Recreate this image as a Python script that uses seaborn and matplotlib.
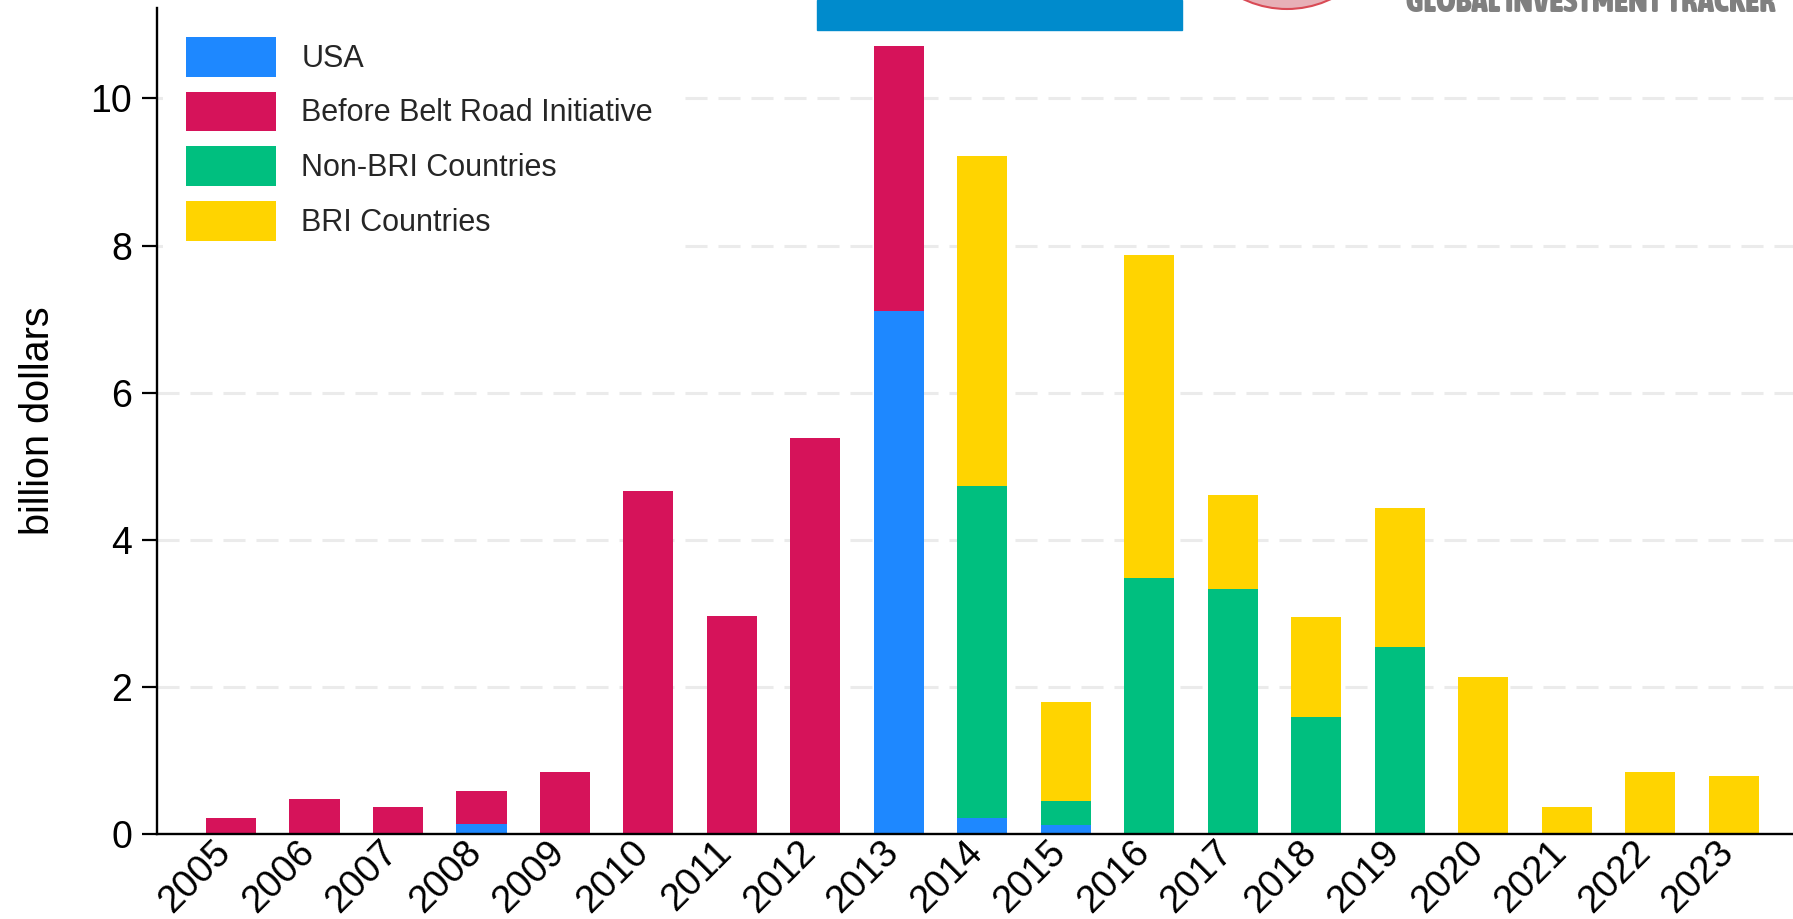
import seaborn as sns
import matplotlib.pyplot as plt
from matplotlib import font_manager
from matplotlib.font_manager import FontProperties
from matplotlib.transforms import ScaledTranslation
from matplotlib.patches import Patch, Rectangle, Circle

# data (billion dollars)
years = [str(y) for y in range(2005, 2024)]
usa = [0, 0, 0, 0.14, 0, 0, 0, 0, 7.11, 0.22, 0.12, 0, 0, 0, 0, 0, 0, 0, 0]
before_bri = [0.22, 0.48, 0.37, 0.45, 0.85, 4.67, 2.97, 5.39, 3.60, 0, 0, 0, 0, 0, 0, 0, 0, 0, 0]
non_bri = [0, 0, 0, 0, 0, 0, 0, 0, 0, 4.52, 0.33, 3.48, 3.34, 1.60, 2.55, 0, 0, 0, 0]
bri = [0, 0, 0, 0, 0, 0, 0, 0, 0, 4.48, 1.35, 4.39, 1.27, 1.35, 1.88, 2.14, 0.37, 0.84, 0.79]

series_names = ['USA', 'Before Belt Road Initiative', 'Non-BRI Countries', 'BRI Countries']
series_colors = ['#1E88FF', '#D6135A', '#00BF7F', '#FFD400']

sns.set_theme(style='white')
plt.rcParams['font.family'] = ['Liberation Sans', 'DejaVu Sans']

fig = plt.figure(figsize=(17.93, 9.19), dpi=100)
ax = fig.add_axes([0.0876, 0.0922, 0.9124, 0.8991])

# stacked bars
bottom = [0.0] * len(years)
for vals, c in zip([usa, before_bri, non_bri, bri], series_colors):
    sns.barplot(x=years, y=vals, bottom=bottom, color=c, width=0.6,
                errorbar=None, linewidth=0, saturation=1, ax=ax)
    bottom = [b + v for b, v in zip(bottom, vals)]

ax.set_xlim(-0.886, 18.71)
ax.set_ylim(0, 11.23)
ax.set_yticks([0, 2, 4, 6, 8, 10])
ax.set_axisbelow(True)
ax.yaxis.grid(True, color='#ebebeb', linewidth=2.2, linestyle=(0, (7.2, 3.6)))
ax.xaxis.grid(False)

for side in ['top', 'right']:
    ax.spines[side].set_visible(False)
for side in ['left', 'bottom']:
    ax.spines[side].set_color('black')
    ax.spines[side].set_linewidth(1.7)

ax.tick_params(axis='y', left=True, length=10.8, width=1.6, pad=7,
               labelsize=27, color='black', labelcolor='black')
ax.tick_params(axis='x', bottom=False, length=0, pad=2,
               labelsize=27.5, labelcolor='black')
shift = ScaledTranslation(0.07, 0.03, fig.dpi_scale_trans)
for lab in ax.get_xticklabels():
    lab.set_rotation(45)
    lab.set_ha('right')
    lab.set_transform(lab.get_transform() + shift)

ax.set_xlabel('')
ax.set_ylabel('billion dollars', fontsize=28.5, labelpad=24.5, color='black')

handles = [Patch(facecolor=c, edgecolor='none') for c in series_colors]
leg = ax.legend(handles, series_names, loc='upper left', fontsize=22,
                handlelength=2.95, handleheight=1.62, labelspacing=0.49,
                handletextpad=0.82, borderpad=0.75, borderaxespad=0.2,
                frameon=True, fancybox=False, framealpha=1,
                facecolor='white', edgecolor='none')

# clipped header pieces at the top of the original image
fig.patches.append(Rectangle((817 / 1793, 1 - 30 / 919), 365 / 1793, 30 / 919,
                             transform=fig.transFigure, color='#008BCC',
                             zorder=5))
fig.patches.append(Circle((12.87, 10.12), 1.02, transform=fig.dpi_scale_trans,
                          facecolor='#E7B0B7', edgecolor='#D94A55',
                          linewidth=1.5, zorder=5))

# bold narrow font for the tracker name, if one is installed
def is_bold(f):
    w = f.weight
    return w in ('bold', 'heavy', 'black', 'extra bold') or (isinstance(w, int) and w >= 600)

narrow = [f for f in font_manager.fontManager.ttflist
          if ('Narrow' in f.name or 'Condensed' in f.name) and is_bold(f)]
narrow.sort(key=lambda f: (0 if 'Liberation' in f.name else 1, f.style != 'normal'))
if narrow:
    head_prop = FontProperties(fname=narrow[0].fname)
else:
    head_prop = FontProperties(family=['Liberation Sans', 'DejaVu Sans'], weight='bold')
head_prop.set_size(19)
head = fig.text(1406 / 1793, 1 - 12 / 919, 'GLOBAL INVESTMENT TRACKER',
                ha='left', va='baseline', color='#808080',
                fontproperties=head_prop)
# fit the header to the width it has in the original
r = fig.canvas.get_renderer()
w = head.get_window_extent(renderer=r).width
head.set_fontsize(19 * 369 / w)

fig.savefig('out.png', dpi=100)
